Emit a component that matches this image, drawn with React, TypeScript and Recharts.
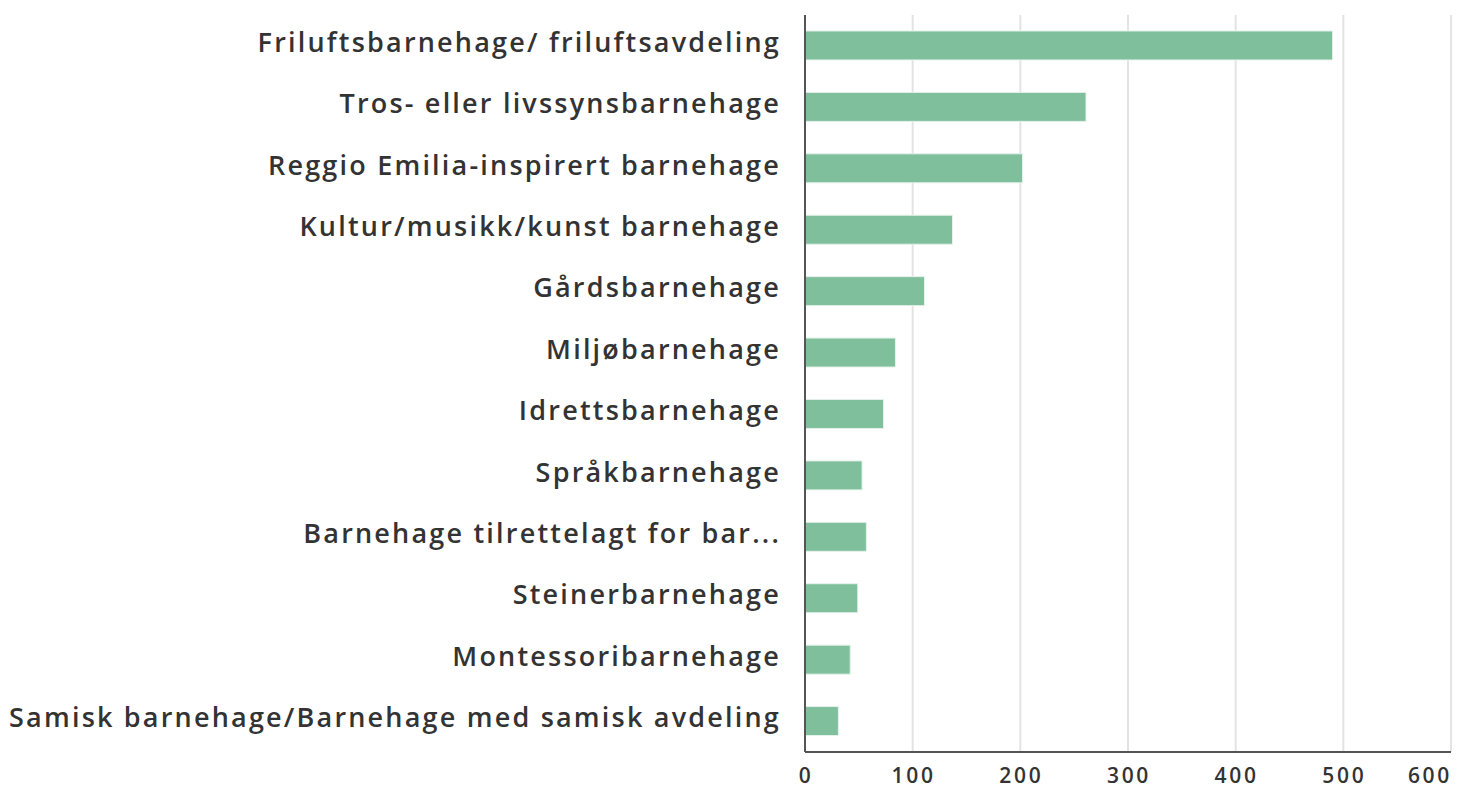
import React from 'react';
import { BarChart, Bar, XAxis, YAxis, CartesianGrid } from 'recharts';

const categories = [
  'Friluftsbarnehage/ friluftsavdeling',
  'Tros- eller livssynsbarnehage',
  'Reggio Emilia-inspirert barnehage',
  'Kultur/musikk/kunst barnehage',
  'Gårdsbarnehage',
  'Miljøbarnehage',
  'Idrettsbarnehage',
  'Språkbarnehage',
  'Barnehage tilrettelagt for bar...',
  'Steinerbarnehage',
  'Montessoribarnehage',
  'Samisk barnehage/Barnehage med samisk avdeling',
];
const values = [490, 261, 202, 137, 111, 84, 73, 53, 57, 49, 42, 31];
const xTicks = [0, 100, 200, 300, 400, 500, 600];

const data = categories.map((name, i) => ({ name, value: values[i] }));

const FONT = '"Open Sans", sans-serif';

const YTick = (props: any) => {
  const { x, y, payload } = props;
  return (
    <text x={x - 16} y={y + 6} textAnchor="end" fill="#333" fontSize={27} fontWeight={600} fontFamily={FONT} letterSpacing={2.2}>
      {payload.value}
    </text>
  );
};

const XTick = (props: any) => {
  const { x, y, payload } = props;
  const last = payload.value === 600;
  return (
    <text x={last ? x + 1 : x + 1} y={y + 23} textAnchor={last ? 'end' : 'middle'} fill="#333" fontSize={21} fontWeight={600} fontFamily={FONT} letterSpacing={2.7}>
      {payload.value}
    </text>
  );
};

export default function App() {
  return (
    <div style={{ position: 'absolute', left: 0, top: 0 }}>
      <BarChart
        width={1466}
        height={791}
        data={data}
        layout="vertical"
        margin={{ top: 15, right: 15, bottom: 0, left: 0 }}
        barCategoryGap="26%"
      >
        <CartesianGrid horizontal={false} vertical={true} stroke="#e3e3e3" strokeWidth={2} />
        <XAxis
          type="number"
          domain={[0, 600]}
          ticks={xTicks}
          height={39}
          axisLine={{ stroke: '#555', strokeWidth: 2 }}
          tickLine={false}
          tick={<XTick />}
          interval={0}
        />
        <YAxis
          type="category"
          dataKey="name"
          width={805}
          axisLine={{ stroke: '#555', strokeWidth: 2 }}
          tickLine={false}
          tick={<YTick />}
          interval={0}
        />
        <Bar dataKey="value" fill="#7fbf9c" stroke="#e6f2ec" strokeWidth={1} isAnimationActive={false} />
      </BarChart>
    </div>
  );
}
